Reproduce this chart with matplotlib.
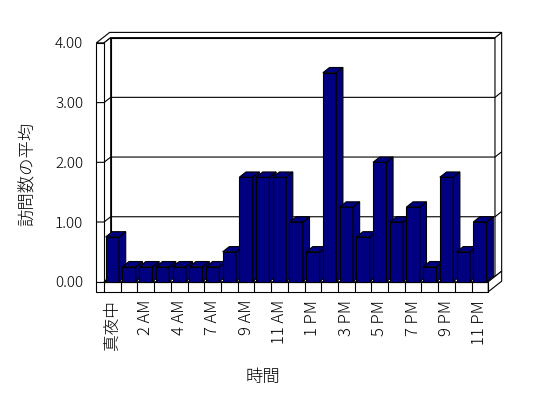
import matplotlib
matplotlib.use("Agg")
import matplotlib.pyplot as plt
from matplotlib.patches import Polygon

plt.rcParams['font.family'] = ['Noto Sans CJK JP', 'DejaVu Sans']
plt.rcParams['font.weight'] = 'light'

# --- data ---
hours = ['真夜中', '1 AM', '2 AM', '3 AM', '4 AM', '6 AM', '7 AM', '8 AM',
         '9 AM', '10 AM', '11 AM', '正午', '1 PM', '2 PM', '3 PM', '4 PM',
         '5 PM', '6 PM', '7 PM', '8 PM', '9 PM', '10 PM', '11 PM']
visits = [0.75, 0.25, 0.25, 0.25, 0.25, 0.25, 0.25, 0.5, 1.75, 1.75, 1.75, 1.0,
          0.5, 3.5, 1.25, 0.75, 2.0, 1.0, 1.25, 0.25, 1.75, 0.5, 1.0]
yticks = [0, 1, 2, 3, 4]

# --- fake 3d look ---
bar_color = '#000080'
edge = 'black'
lw = 0.8
ddx, ddy = 0.40, 0.088    # depth offset (category units, value units)
wall_t = 0.46             # left wall thickness
floor_t = 0.1675          # floor thickness
width = 0.8

n = len(visits)
x0, x1 = -0.5, n - 0.5
ytop = yticks[-1]

fig = plt.figure(figsize=(5.48, 3.98), dpi=100)
ax = fig.add_axes([104 / 548, 1 - 281.7 / 398, 384.3 / 548, (281.7 - 42.9) / 398])
ax.set_xlim(x0, x1)
ax.set_ylim(0, ytop)
for s in ax.spines.values():
    s.set_visible(False)


def poly(pts, z, fc='white'):
    ax.add_patch(Polygon(pts, closed=True, facecolor=fc, edgecolor=edge,
                         linewidth=lw, zorder=z, clip_on=False,
                         joinstyle='miter'))


def line(xs, ys, z):
    ax.plot(xs, ys, color=edge, lw=lw, zorder=z, clip_on=False,
            solid_capstyle='butt')


# back wall inner face
poly([(x0 + ddx, ddy), (x1 + ddx, ddy), (x1 + ddx, ytop + ddy), (x0 + ddx, ytop + ddy)], 1)
# back wall right thickness
poly([(x1 + ddx, ddy), (x1 + 2 * ddx, 2 * ddy), (x1 + 2 * ddx, ytop + 2 * ddy), (x1 + ddx, ytop + ddy)], 1)
# top faces of walls
poly([(x0 - wall_t, ytop), (x0 - wall_t + 2 * ddx, ytop + 2 * ddy),
      (x1 + 2 * ddx, ytop + 2 * ddy), (x1 + ddx, ytop + ddy),
      (x0 + ddx, ytop + ddy), (x0, ytop)], 1)
# left wall inner face and front face
poly([(x0, 0), (x0 + ddx, ddy), (x0 + ddx, ytop + ddy), (x0, ytop)], 1)
poly([(x0 - wall_t, 0), (x0, 0), (x0, ytop), (x0 - wall_t, ytop)], 1)
# floor top, front and right side
poly([(x0, 0), (x1, 0), (x1 + ddx, ddy), (x0 + ddx, ddy)], 1.5)
poly([(x0 - wall_t, -floor_t), (x1, -floor_t), (x1, 0), (x0 - wall_t, 0)], 1.5)
poly([(x1, -floor_t), (x1 + 2 * ddx, -floor_t + 2 * ddy), (x1 + 2 * ddx, 2 * ddy), (x1, 0)], 1.5)
for k in range(n + 1):
    line([k - 0.5, k - 0.5], [-floor_t, 0], 1.6)

# gridlines wrapping around the walls
for v in yticks[1:-1]:
    line([x0 - wall_t, x0, x0 + ddx, x1 + ddx, x1 + 2 * ddx],
         [v, v, v + ddy, v + ddy, v + 2 * ddy], 1.2)

# bars
bars = ax.bar(range(n), visits, width=width, color=bar_color, edgecolor=edge,
              linewidth=lw, clip_on=False)
for i, (rect, v) in enumerate(zip(bars, visits)):
    z = 3 + i * 0.01
    rect.set_zorder(z)
    l, r = i - width / 2, i + width / 2
    poly([(r, 0), (r + ddx, ddy), (r + ddx, v + ddy), (r, v)], z, bar_color)
    poly([(l, v), (r, v), (r + ddx, v + ddy), (l + ddx, v + ddy)], z, bar_color)

# ticks and labels
ax.set_yticks(yticks)
ax.set_yticklabels([f'{v:.2f}' for v in yticks], fontsize=11)
ax.set_xticks(range(0, n, 2))
ax.set_xticklabels(hours[::2], rotation=90, fontsize=12, va='top', ha='center')
ax.tick_params(axis='y', length=0, pad=15)
ax.tick_params(axis='x', length=0, pad=13)

fig.text(28 / 548, 1 - 174 / 398, '訪問数の平均', rotation=90, fontsize=12.5,
         ha='center', va='center')
fig.text(263 / 548, 1 - 377 / 398, '時間', fontsize=12.5, ha='center', va='center')

fig.savefig('out.png', dpi=100)
